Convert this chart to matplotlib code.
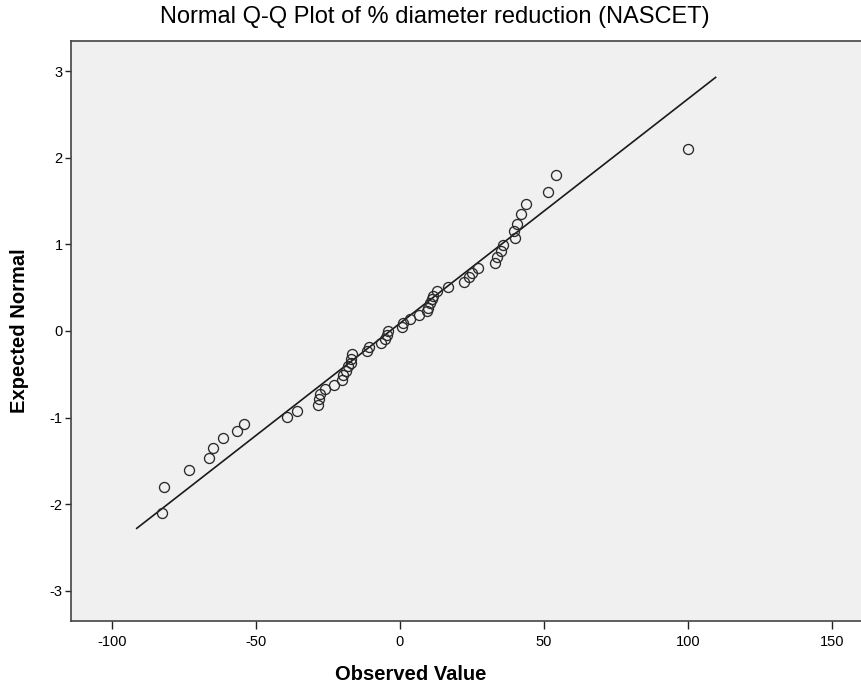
import numpy as np
import matplotlib
matplotlib.use("Agg")
import matplotlib.pyplot as plt

plt.rcParams['font.family'] = ['Liberation Sans', 'DejaVu Sans']
plt.rcParams['axes.unicode_minus'] = False

# observed % diameter reduction
observed = [-82.4, -81.9, -73.3, -66.1, -64.7, -61.2, -56.4, -54.2, -39.1, -35.7,
            -28.4, -28.0, -27.8, -26.0, -22.9, -20.2, -19.7, -18.8, -18.0, -17.1,
            -16.8, -16.7, -11.4, -10.7, -6.4, -5.2, -4.6, -4.0, 0.9, 1.1,
            3.5, 6.7, 9.3, 9.7, 10.4, 11.0, 11.6, 12.8, 16.6, 22.4,
            23.9, 25.1, 27.0, 33.2, 33.8, 35.0, 35.8, 39.9, 39.8, 40.5,
            42.2, 43.9, 51.4, 54.1, 99.9]
# expected normal values
expected = [-2.10, -1.80, -1.61, -1.47, -1.35, -1.24, -1.15, -1.07, -0.99, -0.92,
            -0.85, -0.79, -0.73, -0.67, -0.62, -0.57, -0.51, -0.46, -0.41, -0.37,
            -0.32, -0.27, -0.23, -0.18, -0.14, -0.09, -0.05, 0.00, 0.05, 0.09,
            0.14, 0.18, 0.23, 0.27, 0.32, 0.37, 0.41, 0.46, 0.51, 0.57,
            0.62, 0.67, 0.73, 0.79, 0.85, 0.92, 0.99, 1.07, 1.15, 1.24,
            1.35, 1.47, 1.61, 1.80, 2.10]

# reference line end points
line_x = [-91.3, 109.6]
line_y = [-2.28, 2.93]

x_ticks = [-100, -50, 0, 50, 100, 150]
y_ticks = [-3, -2, -1, 0, 1, 2, 3]

fig = plt.figure(figsize=(8.62, 6.86), dpi=100)
ax = fig.add_axes([0.0824, 0.0948, 0.9176, 0.8454])
ax.set_facecolor('#f0f0f0')

ax.plot(line_x, line_y, color='#1a1a1a', lw=1.2, zorder=2)
ax.plot(observed, expected, 'o', ms=7.2, mfc='none', mec='#2a2a2a', mew=0.95, zorder=3)

ax.set_xlim(-114.1, 160.4)
ax.set_ylim(-3.35, 3.35)
ax.set_xticks(x_ticks)
ax.set_yticks(y_ticks)
ax.tick_params(axis='x', length=6, width=1, color='#222222', labelsize=10.5, pad=4)
ax.tick_params(axis='y', length=4, width=1, color='#222222', labelsize=10.5, pad=2)

for side in ['left', 'top', 'bottom']:
    ax.spines[side].set_color('#444444')
    ax.spines[side].set_linewidth(1.2)
ax.spines['right'].set_visible(False)

fig.text(435 / 862, 1 - 17 / 686, 'Normal Q-Q Plot of % diameter reduction (NASCET)',
         fontsize=17, ha='center', va='center')
fig.text(411 / 862, 1 - 675 / 686, 'Observed Value', fontsize=14.5,
         fontweight='bold', ha='center', va='center')
fig.text(20 / 862, 1 - 331 / 686, 'Expected Normal', fontsize=14.5,
         fontweight='bold', ha='center', va='center', rotation=90)

fig.savefig('out.png', dpi=100)
